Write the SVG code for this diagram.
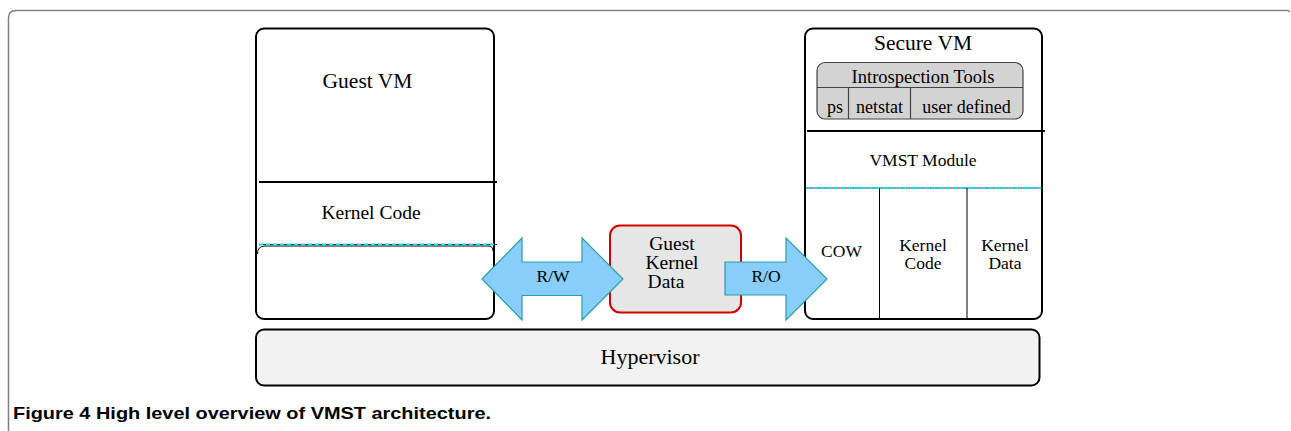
<svg xmlns="http://www.w3.org/2000/svg" width="1291" height="431" viewBox="0 0 1291 431">
  <style>
    .box { fill: #ffffff; stroke: #000000; stroke-width: 2; }
    .rule { stroke: #000000; stroke-width: 2; fill: none; }
    .thin { stroke: #000000; stroke-width: 1; fill: none; }
    .dash-under { stroke: #333333; stroke-width: 1; fill: none; }
    .dash-cyan { stroke: #00e5ee; stroke-width: 2; stroke-dasharray: 4 3; fill: none; }
    .lbl { font-family: "Liberation Serif", "Times New Roman", serif; fill: #000000; text-anchor: middle; }
    .arrow { fill: #87cefa; stroke: #2a9fa8; stroke-width: 1.2; stroke-linejoin: miter; }
    .caption { font-family: "Liberation Sans", Arial, sans-serif; font-weight: bold; font-size: 17px; fill: #000000; }
  </style>

  <rect width="1291" height="431" fill="#ffffff"/>

  <!-- figure frame -->
  <path d="M8.5,431 V18 Q8.5,10.5 16,10.5 H1288 L1290,12" fill="none" stroke="#808080" stroke-width="1.5"/>

  <!-- guest VM -->
  <g id="guest-vm">
    <rect class="box" x="256" y="28.5" width="238" height="290.5" rx="8"/>
    <line class="rule" x1="259" y1="182" x2="497" y2="182"/>
    <path class="thin" d="M257.5,254 Q257.5,246 265,246 H488 Q493,246 493,251"/>
    <line class="dash-under" x1="259" y1="244.5" x2="497" y2="244.5"/>
    <line class="dash-cyan" x1="259" y1="244.5" x2="497" y2="244.5"/>
    <text class="lbl" x="367.5" y="88" font-size="21.5">Guest VM</text>
    <text class="lbl" x="371" y="219" font-size="19.5">Kernel Code</text>
  </g>

  <!-- shared guest kernel data -->
  <g id="guest-kernel-data">
    <rect x="610" y="225.5" width="131" height="87" rx="10" fill="#e6e6e6" stroke="#d40000" stroke-width="2"/>
    <text class="lbl" x="672" y="250" font-size="19.5">Guest</text>
    <text class="lbl" x="672" y="269" font-size="19.5">Kernel</text>
    <text class="lbl" x="666" y="288" font-size="19.5">Data</text>
  </g>

  <!-- secure VM -->
  <g id="secure-vm">
    <rect class="box" x="805" y="28.5" width="237" height="290.5" rx="8"/>
    <text class="lbl" x="923" y="49.5" font-size="21.5">Secure VM</text>

    <g id="introspection-tools">
      <rect x="817" y="62.5" width="206" height="56.5" rx="8" fill="#d3d3d3" stroke="#444444" stroke-width="1.2"/>
      <line x1="817" y1="87.5" x2="1023" y2="87.5" stroke="#444444" stroke-width="1.2"/>
      <line x1="848.5" y1="87.5" x2="848.5" y2="119" stroke="#444444" stroke-width="1.2"/>
      <line x1="910.5" y1="87.5" x2="910.5" y2="119" stroke="#444444" stroke-width="1.2"/>
      <text class="lbl" x="923" y="82.5" font-size="18.5">Introspection Tools</text>
      <text class="lbl" x="835" y="112.5" font-size="18">ps</text>
      <text class="lbl" x="879.5" y="112.5" font-size="18">netstat</text>
      <text class="lbl" x="966.5" y="112.5" font-size="18">user defined</text>
    </g>

    <line class="rule" x1="807" y1="131" x2="1045" y2="131"/>
    <text class="lbl" x="923" y="166" font-size="17.5">VMST Module</text>
    <line class="dash-under" x1="806" y1="188" x2="1042" y2="188"/>
    <line class="dash-cyan" x1="806" y1="188" x2="1042" y2="188"/>
    <line class="thin" x1="879.5" y1="188" x2="879.5" y2="319"/>
    <line class="thin" x1="967" y1="188" x2="967" y2="319"/>
    <text class="lbl" x="841.5" y="256.5" font-size="17.5">COW</text>
    <text class="lbl" x="923" y="251" font-size="17.5">Kernel</text>
    <text class="lbl" x="923" y="269" font-size="17.5">Code</text>
    <text class="lbl" x="1005" y="251" font-size="17.5">Kernel</text>
    <text class="lbl" x="1005" y="269" font-size="17.5">Data</text>
  </g>

  <!-- hypervisor -->
  <g id="hypervisor">
    <rect x="256" y="329.5" width="783.5" height="56" rx="8" fill="#f2f2f2" stroke="#000000" stroke-width="2"/>
    <text class="lbl" x="650" y="364" font-size="22">Hypervisor</text>
  </g>

  <!-- access arrows -->
  <g id="connectors">
    <polygon class="arrow" points="482,279 522,238 522,262 582,262 582,238 623,279 582,320 582,295.5 522,295.5 522,320"/>
    <text class="lbl" x="553" y="282" font-size="17.5">R/W</text>
    <polygon class="arrow" points="725,262 786,262 786,238 827,279 786,320 786,295 725,295"/>
    <text class="lbl" x="766" y="282" font-size="17.5">R/O</text>
  </g>

  <text class="caption" x="13" y="419" textLength="478" lengthAdjust="spacingAndGlyphs">Figure 4 High level overview of VMST architecture.</text>
</svg>
